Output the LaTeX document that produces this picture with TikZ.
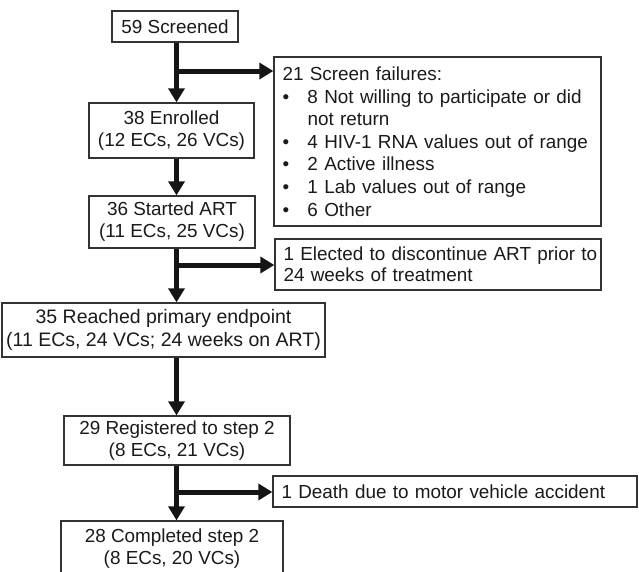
\documentclass[tikz,border=0pt]{standalone}
\usepackage{fontspec}
\setmainfont{Liberation Sans}
\usetikzlibrary{arrows.meta}
\definecolor{boxc}{HTML}{333333}
\definecolor{arrc}{HTML}{151515}
\definecolor{txtc}{HTML}{1a1a1a}
\begin{document}
\begin{tikzpicture}[x=1pt,y=-1pt,
  box/.style={draw=boxc, line width=1.3pt, inner sep=0pt, text=txtc,
    font=\fontsize{18.9}{22}\selectfont, align=center},
  lbox/.style={box, align=left, inner xsep=8.5pt, inner ysep=0pt},
  arr/.style={draw=arrc, line width=5pt, -{Triangle[length=14pt,width=16pt]}}
]
\useasboundingbox (0,0) rectangle (639,571);

\node[box, minimum width=126pt, minimum height=31pt] (scr) at (175,26.5) {59 Screened};
\node[box, minimum width=165pt, minimum height=55pt] (enr) at (171.5,130.5) {38 Enrolled\\(12 ECs, 26 VCs)};
\node[lbox, font=\fontsize{18.9}{22.6}\selectfont, text width=310pt, minimum height=169pt] (sf) at (437.5,141.5)
  {21 Screen failures:\\
   \makebox[25pt][l]{•}\mbox{8 Not willing to participate or did}\\
   \hspace*{25pt}not return\\
   \makebox[25pt][l]{•}\mbox{4 HIV-1 RNA values out of range}\\
   \makebox[25pt][l]{•}2 Active illness\\
   \makebox[25pt][l]{•}1 Lab values out of range\\
   \makebox[25pt][l]{•}6 Other};
\node[box, minimum width=166pt, minimum height=52pt] (art) at (172,222) {36 Started ART\\(11 ECs, 25 VCs)};
\node[lbox, font=\fontsize{18.9}{21}\selectfont, text width=309pt, minimum height=51pt] (el) at (438,264.5)
  {\mbox{1 Elected to discontinue ART prior to}\\24 weeks of treatment};
\node[box, font=\fontsize{19.5}{22.6}\selectfont, minimum width=323pt, minimum height=54pt] (rea) at (163.5,330)
  {35 Reached primary endpoint\\(11 ECs, 24 VCs; 24 weeks on ART)};
\node[box, minimum width=226pt, minimum height=49pt] (reg) at (177,440.5) {29 Registered to step 2\\(8 ECs, 21 VCs)};
\node[lbox, text width=347pt, minimum height=31pt] (dth) at (455,491.5) {\mbox{1 Death due to motor vehicle accident}};
\node[box, minimum width=222pt, minimum height=55pt] (cmp) at (172,548.5) {28 Completed step 2\\(8 ECs, 20 VCs)};

\coordinate (j1) at (176.5,71);
\coordinate (j2) at (176.5,265);
\coordinate (j3) at (176.5,492);

\draw[arr] (scr.south -| j1) -- (enr.north -| j1);
\draw[arr] (j1) -- (j1 -| sf.west);
\draw[arr] (enr.south -| j1) -- (art.north -| j1);
\draw[arr] (art.south -| j2) -- (rea.north -| j2);
\draw[arr] (j2) -- (j2 -| el.west);
\draw[arr] (rea.south -| j3) -- (reg.north -| j3);
\draw[arr] (reg.south -| j3) -- (cmp.north -| j3);
\draw[arr] (j3) -- (j3 -| dth.west);
\end{tikzpicture}
\end{document}
